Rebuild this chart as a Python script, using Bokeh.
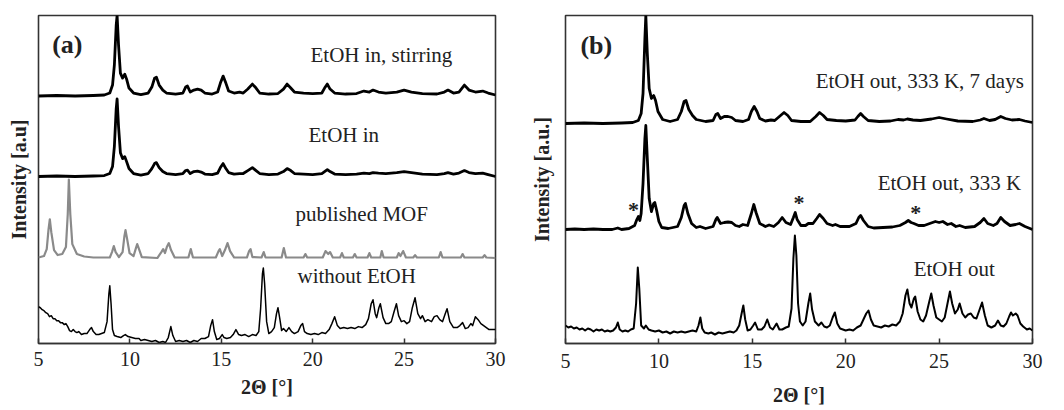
from bokeh.plotting import figure
from bokeh.layouts import row
from bokeh.models import Range1d, FixedTicker, Label
from bokeh.embed import file_html
from bokeh.resources import INLINE

# ---------------- DATA ----------------
# Panel (a)
a_stir_x = [5.0, 6.0, 7.0, 8.0, 8.6, 8.9, 9.05, 9.15, 9.25, 9.3, 9.38, 9.48, 9.6, 9.72, 9.82, 9.95, 10.2, 10.6,
            11.0, 11.2, 11.35, 11.45, 11.6, 11.8, 12.0, 12.5, 12.9, 13.05, 13.15, 13.3, 13.5, 13.7, 13.9, 14.1,
            14.5, 14.8, 14.95, 15.1, 15.25, 15.4, 15.7, 16.0, 16.2, 16.45, 16.7, 16.9, 17.1, 17.6, 18.1, 18.4,
            18.6, 18.8, 19.0, 19.5, 20.0, 20.5, 20.65, 20.8, 20.95, 21.2, 21.8, 22.4, 22.8, 23.1, 23.3, 23.6,
            24.0, 24.6, 25.0, 25.4, 26.0, 26.8, 27.2, 27.4, 27.7, 28.0, 28.3, 28.55, 28.9, 29.3, 29.6, 30.0]
a_stir_y = [249, 249.5, 249, 249.5, 250, 252, 260, 280, 320, 330, 300, 272, 267, 271, 266, 257, 252, 250.5,
            252, 258, 267, 268, 260, 255, 252, 251, 252, 258, 259, 253, 255, 256, 255, 252,
            251, 253, 262, 269, 262, 254, 252, 253, 252, 256, 261, 257, 252, 251, 251.5, 256,
            261, 257, 253, 252, 251.5, 252, 257, 261, 256, 252, 251, 251.5, 254, 253, 255, 253,
            252, 253, 255, 253, 251.5, 251, 253, 255, 252, 253, 260, 255, 253, 254, 252, 250]

a_in_x = a_stir_x
a_in_y = [168, 168.5, 168, 168.5, 169, 171, 178, 198, 236, 246, 218, 192, 186, 188, 183, 176, 171, 169.5,
          171, 176, 181, 182, 177, 173, 171, 170, 171, 174, 174.5, 171, 173, 173.5, 172.5, 170.5,
          170, 171.5, 177, 181, 176, 172, 170.5, 171, 171, 174, 177, 174, 171, 170, 170.5, 173,
          176, 174, 171, 170.5, 170, 171, 173, 175, 173, 170.5, 170, 170.5, 171.5, 171, 172, 171.5,
          171, 172, 173, 172, 170.5, 170, 171, 172, 170.5, 171.5, 174, 172, 171, 171.5, 170, 168]

a_pub_x = [5.0, 5.3, 5.45, 5.55, 5.62, 5.7, 5.85, 6.05, 6.3, 6.5, 6.6, 6.66, 6.74, 6.85, 7.1, 7.5, 8.0, 8.9,
           9.02, 9.12, 9.22, 9.4, 9.6, 9.7, 9.76, 9.84, 9.98, 10.2, 10.33, 10.4, 10.48, 10.65, 11.5, 11.72,
           11.82, 11.92, 12.02, 12.13, 12.25, 12.45, 13.2, 13.33, 13.45, 14.7, 14.85, 14.92, 15.05, 15.2,
           15.34, 15.48, 15.7, 16.4, 16.52, 16.6, 16.7, 17.2, 17.32, 17.42, 18.3, 18.42, 18.54, 19.5, 19.6,
           19.7, 20.55, 20.7, 20.85, 20.95, 21.1, 21.5, 21.6, 21.7, 22.2, 22.3, 22.4, 23.0, 23.1, 23.2, 23.7,
           23.78, 23.88, 24.6, 24.7, 24.8, 24.95, 25.1, 25.5, 25.6, 25.7, 26.9, 27.0, 27.1, 28.1, 28.2, 28.3,
           29.3, 29.4, 29.5, 30.0]
a_pub_y = [86.5, 88, 95, 115, 125, 112, 94, 89, 90, 97, 130, 165, 130, 100, 90, 87.5, 86.5, 86.5,
           92, 98, 92, 87, 92, 108, 114, 106, 91, 88, 96, 100, 96, 87, 86, 92,
           95, 91, 97, 101, 94, 86.5, 86.5, 95, 86.5, 86.5, 93, 95, 88, 94,
           101, 93, 86.5, 86.5, 93, 95, 87, 86.5, 92, 86.5, 86.5, 96, 86.5, 86.5, 90,
           86.5, 86.5, 93, 90, 92, 86.5, 86.5, 91, 86.5, 86.5, 90, 86.5, 86.5, 91, 86.5, 86.5,
           93, 86.5, 86.5, 91, 88, 93, 86.5, 86.5, 89, 86.5, 86.5, 92, 86.5, 86.5, 90, 86.5,
           86.5, 89, 86.5, 86]

a_wo_x = [5.0, 5.1, 5.2, 5.3, 5.4, 5.5, 5.6, 5.7, 5.8, 5.9, 6.0, 6.1, 6.2, 6.3, 6.4, 6.5, 6.6, 6.7, 6.8, 6.9,
          7.0, 7.1, 7.2, 7.35, 7.5, 7.65, 7.8, 7.9, 8.0, 8.15, 8.3, 8.45, 8.6, 8.75, 8.85, 8.9, 8.97, 9.05,
          9.15, 9.3, 9.5, 9.65, 9.75, 9.9, 10.1, 10.3, 10.5, 10.6, 10.8, 11.0, 11.2, 11.4, 11.6, 11.8, 11.95,
          12.1, 12.24, 12.35, 12.5, 12.7, 12.9, 13.1, 13.3, 13.5, 13.7, 13.9, 14.1, 14.3, 14.42, 14.52, 14.62,
          14.75, 14.9, 15.05, 15.15, 15.3, 15.5, 15.65, 15.8, 15.95, 16.1, 16.3, 16.5, 16.7, 16.9, 17.05,
          17.15, 17.25, 17.3, 17.37, 17.48, 17.6, 17.75, 17.9, 18.02, 18.1, 18.2, 18.3, 18.4, 18.55, 18.7,
          18.85, 19.0, 19.2, 19.35, 19.45, 19.55, 19.7, 19.9, 20.1, 20.3, 20.5, 20.7, 20.9, 21.05, 21.2,
          21.35, 21.5, 21.7, 21.9, 22.1, 22.3, 22.5, 22.7, 22.9, 23.05, 23.2, 23.3, 23.42, 23.5, 23.62, 23.7,
          23.85, 24.0, 24.15, 24.3, 24.45, 24.58, 24.7, 24.85, 25.0, 25.15, 25.3, 25.45, 25.6, 25.75, 25.9,
          26.0, 26.15, 26.3, 26.5, 26.65, 26.8, 26.95, 27.1, 27.25, 27.35, 27.5, 27.7, 27.9, 28.05, 28.2,
          28.35, 28.5, 28.65, 28.75, 28.9, 29.05, 29.2, 29.35, 29.5, 29.65, 29.8, 30.0]
a_wo_y = [37, 36, 34, 33, 31, 30, 27, 28, 25, 25, 23, 23, 21, 21, 19, 20, 17, 13, 12, 14,
          12, 11, 12, 9, 10, 10, 14, 16, 12, 9, 9, 10, 11, 22, 50, 58, 40, 14,
          8, 7, 6, 8, 9, 7, 6, 5, 5, 3, 4, 3, 2, 3, 1, 2, 1,
          6, 17, 8, 2, 3, 2, 3, 1, 3, 2, 5, 5, 7, 18, 24, 12,
          4, 5, 9, 6, 5, 6, 9, 14, 9, 8, 9, 7, 9, 8, 12,
          35, 70, 76, 60, 22, 10, 12, 16, 30, 36, 25, 13, 15, 12, 16,
          12, 10, 12, 18, 20, 12, 10, 9, 10, 9, 11, 10, 14, 20, 27,
          18, 15, 16, 15, 16, 15, 17, 16, 19, 25, 40, 44, 30, 26, 36, 40,
          26, 20, 20, 22, 32, 40, 28, 22, 23, 20, 22, 36, 46, 30, 25,
          28, 22, 24, 22, 27, 28, 24, 22, 30, 35, 22, 16, 16, 18, 21,
          15, 16, 20, 18, 27, 24, 20, 18, 16, 14, 14, 14]

# Panel (b)
b_7d_x = a_stir_x
b_7d_y = [220, 220.5, 220, 220.5, 221, 223, 230, 250, 305, 328, 290, 255, 245, 248, 243, 232, 224, 222,
          224, 232, 242, 243, 234, 228, 224, 222, 223, 229, 230, 225, 227, 227, 226, 223,
          222, 224, 232, 237, 232, 225, 222.5, 223.5, 223, 227, 231, 228, 223, 222, 222, 227,
          231, 228, 224, 223, 222.5, 223.5, 227, 230, 227, 223, 222, 222.5, 224, 223.5, 224.5, 223.5,
          223, 224.5, 226, 224.5, 222.5, 222, 223.5, 225, 223, 224, 227, 225, 223.5, 224, 222.5, 221]

b_333_x = [5.0, 5.5, 6.0, 6.5, 7.0, 7.5, 7.8, 8.0, 8.4, 8.7, 8.82, 8.9, 8.98, 9.05, 9.15, 9.25, 9.3, 9.38,
           9.48, 9.6, 9.72, 9.78, 9.88, 10.0, 10.15, 10.5, 11.0, 11.2, 11.35, 11.42, 11.55, 11.75, 12.0, 12.2,
           12.5, 12.9, 13.05, 13.12, 13.3, 13.5, 13.7, 13.9, 14.1, 14.3, 14.5, 14.75, 14.95, 15.08, 15.2, 15.4,
           15.7, 15.9, 16.15, 16.4, 16.6, 16.8, 17.05, 17.2, 17.3, 17.4, 17.6, 17.85, 18.0, 18.25, 18.45, 18.6,
           18.8, 19.0, 19.3, 19.45, 19.7, 20.2, 20.55, 20.7, 20.8, 20.95, 21.2, 21.5, 22.0, 22.5, 22.9, 23.2,
           23.35, 23.5, 23.65, 23.9, 24.2, 24.5, 24.8, 25.0, 25.2, 25.45, 25.65, 25.9, 26.1, 26.4, 26.9, 27.2,
           27.4, 27.6, 27.9, 28.1, 28.3, 28.5, 28.8, 29.1, 29.3, 29.6, 30.0]
b_333_y = [114, 114.5, 114, 114.5, 114, 114, 115.5, 114, 115, 118, 124, 127, 123, 130, 160, 205, 218, 185,
           145, 132, 140, 141, 133, 122, 116, 115, 117, 126, 138, 140, 130, 120, 116, 117,
           115, 117, 124, 126, 120, 121, 121.5, 121, 118, 117, 119, 118, 130, 139, 131, 120,
           117, 118.5, 117, 121, 126, 121, 119, 126, 131, 124, 118, 118, 120, 120, 125, 129,
           125, 120, 118, 119, 117, 117, 120, 126, 128, 123, 117, 115.5, 116, 116.5, 118, 121,
           123, 121, 120, 118, 118, 120, 122, 121, 122, 119, 120, 117, 118, 116, 117, 121,
           125, 120, 118, 120, 126, 122, 118, 119, 120, 117, 114]

b_out_x = [5.0, 5.15, 5.3, 5.45, 5.6, 5.75, 5.9, 6.05, 6.2, 6.35, 6.5, 6.65, 6.8, 6.95, 7.1, 7.25, 7.4, 7.55,
           7.7, 7.8, 7.9, 8.05, 8.2, 8.35, 8.5, 8.65, 8.78, 8.87, 8.95, 9.05, 9.2, 9.3, 9.45, 9.6, 9.8, 10.0,
           10.2, 10.4, 10.6, 10.8, 11.0, 11.2, 11.4, 11.6, 11.8, 12.0, 12.12, 12.22, 12.32, 12.45, 12.65, 12.8,
           13.0, 13.2, 13.4, 13.6, 13.8, 14.0, 14.15, 14.3, 14.45, 14.52, 14.62, 14.75, 14.9, 15.05, 15.15,
           15.3, 15.5, 15.65, 15.8, 15.95, 16.1, 16.3, 16.45, 16.6, 16.8, 16.95, 17.1, 17.2, 17.28, 17.36,
           17.45, 17.55, 17.7, 17.85, 18.0, 18.1, 18.2, 18.35, 18.55, 18.7, 18.85, 19.0, 19.15, 19.3, 19.42,
           19.55, 19.7, 19.85, 20.0, 20.2, 20.4, 20.6, 20.8, 20.95, 21.1, 21.22, 21.35, 21.5, 21.7, 21.9,
           22.1, 22.3, 22.5, 22.7, 22.9, 23.05, 23.2, 23.3, 23.42, 23.52, 23.65, 23.72, 23.85, 24.0, 24.15,
           24.3, 24.45, 24.58, 24.7, 24.85, 25.0, 25.15, 25.3, 25.45, 25.58, 25.7, 25.85, 26.0, 26.1, 26.25,
           26.4, 26.55, 26.7, 26.85, 27.0, 27.15, 27.3, 27.45, 27.6, 27.8, 28.0, 28.15, 28.3, 28.45, 28.6,
           28.75, 28.85, 28.95, 29.1, 29.2, 29.35, 29.5, 29.7, 29.85, 30.0]
b_out_y = [18, 16, 17, 15, 16, 14, 15, 13, 15, 14, 12, 14, 13, 14, 12, 13, 12, 13,
           16, 21, 14, 12, 13, 12, 14, 15, 40, 76, 55, 18, 15, 18, 14, 13, 12, 13,
           11, 12, 10, 12, 11, 12, 11, 12, 13, 12, 18, 26, 15, 11, 10, 11,
           9, 11, 10, 11, 12, 11, 13, 18, 32, 38, 24, 13, 14, 18, 21,
           14, 14, 17, 24, 16, 14, 20, 14, 14, 16, 17, 35, 85, 108, 88,
           40, 22, 18, 22, 40, 50, 34, 22, 18, 21, 17, 16, 18, 26, 31,
           20, 15, 14, 13, 14, 13, 16, 18, 24, 30, 33, 24, 18, 17, 16,
           18, 17, 19, 18, 22, 30, 48, 54, 40, 36, 45, 47, 32, 24, 22,
           28, 40, 50, 38, 26, 24, 22, 26, 40, 52, 40, 30, 34, 40, 30,
           26, 29, 30, 26, 25, 33, 41, 28, 18, 16, 18, 23, 18, 17, 20,
           27, 31, 28, 30, 28, 20, 17, 14, 15, 13]

x_ticks = [5, 10, 15, 20, 25, 30]
a_names = ["EtOH in, stirring", "EtOH in", "published MOF", "without EtOH"]
b_names = ["EtOH out, 333 K, 7 days", "EtOH out, 333 K", "EtOH out"]
star_x = [8.64, 17.5, 23.75]
star_y = [134, 141, 131]

# ---------------- STYLE ----------------
SERIF = "Liberation Serif"
TXT = "#222222"
H = 408


def make_fig(width, ymax, bl, br, bt, bb, ylabel, tick_standoff, title_standoff, ylab_standoff):
    p = figure(width=width, height=H, output_backend="svg", toolbar_location=None,
               x_range=Range1d(5, 30), y_range=Range1d(0, ymax),
               min_border_left=bl, min_border_right=br, min_border_top=bt, min_border_bottom=bb)
    p.xgrid.visible = False
    p.ygrid.visible = False
    p.outline_line_color = "#333333"
    p.outline_line_width = 1.6
    p.outline_line_alpha = 1
    p.background_fill_color = "white"
    p.border_fill_color = "white"
    xa = p.xaxis[0]
    xa.ticker = FixedTicker(ticks=x_ticks)
    xa.major_tick_in = 5
    xa.major_tick_out = 0
    xa.minor_tick_line_color = None
    xa.axis_line_color = "#333333"
    xa.axis_line_width = 1.6
    xa.major_tick_line_color = "#333333"
    xa.major_tick_line_width = 1.5
    xa.major_label_text_font = SERIF
    xa.major_label_text_font_size = "20px"
    xa.major_label_text_color = TXT
    xa.major_label_standoff = tick_standoff
    xa.axis_label = "2Θ [°]"
    xa.axis_label_text_font = SERIF
    xa.axis_label_text_font_size = "20px"
    xa.axis_label_text_font_style = "bold"
    xa.axis_label_text_color = TXT
    xa.axis_label_standoff = title_standoff
    ya = p.yaxis[0]
    ya.ticker = FixedTicker(ticks=[])
    ya.major_tick_line_color = None
    ya.minor_tick_line_color = None
    ya.axis_line_color = None
    ya.major_label_text_font_size = "0px"
    ya.axis_label = ylabel
    ya.axis_label_text_font = SERIF
    ya.axis_label_text_font_size = "20px"
    ya.axis_label_text_font_style = "bold"
    ya.axis_label_text_color = TXT
    ya.axis_label_standoff = ylab_standoff
    return p


def add_text(p, x, y, text, size="21px", bold=False, baseline="middle"):
    p.add_layout(Label(x=x, y=y, text=text, text_font=SERIF, text_font_size=size,
                       text_font_style="bold" if bold else "normal", text_color=TXT,
                       text_align="left", text_baseline=baseline))


# ---------------- PANEL (a) ----------------
pa = make_fig(520, 330, 38, 25, 13, H - 343, "Intensity [a.u]", 8, 7, 9)
pa.line(a_stir_x, a_stir_y, line_color="black", line_width=2.8, line_join="round")
pa.line(a_in_x, a_in_y, line_color="black", line_width=2.8, line_join="round")
pa.line(a_pub_x, a_pub_y, line_color="#8a8a8a", line_width=2.2, line_join="round")
pa.line(a_wo_x, a_wo_y, line_color="black", line_width=1.5, line_join="round")
add_text(pa, 5.75, 301, "(a)", size="26px", bold=True)
add_text(pa, 19.88, 290, a_names[0])
add_text(pa, 19.77, 210, a_names[1])
add_text(pa, 19.06, 130, a_names[2])
add_text(pa, 19.17, 68, a_names[3])

# ---------------- PANEL (b) ----------------
pb = make_fig(538, 328, 45, 26, 15, H - 343, "Intensity [a.u.]", 10, 13, 13)
pb.line(b_7d_x, b_7d_y, line_color="black", line_width=2.8, line_join="round")
pb.line(b_333_x, b_333_y, line_color="black", line_width=2.8, line_join="round")
pb.line(b_out_x, b_out_y, line_color="black", line_width=2.0, line_join="round")
add_text(pb, 5.8, 298, "(b)", size="26px", bold=True)
add_text(pb, 18.39, 263, b_names[0])
add_text(pb, 21.71, 161, b_names[1])
add_text(pb, 23.64, 75, b_names[2])
for sx, sy in zip(star_x, star_y):
    pb.add_layout(Label(x=sx, y=sy, text="*", text_font=SERIF, text_font_size="22px",
                        text_font_style="bold", text_color=TXT, text_align="center",
                        text_baseline="alphabetic"))

layout = row(pa, pb)
open("out.html", "w").write(file_html(layout, INLINE))
